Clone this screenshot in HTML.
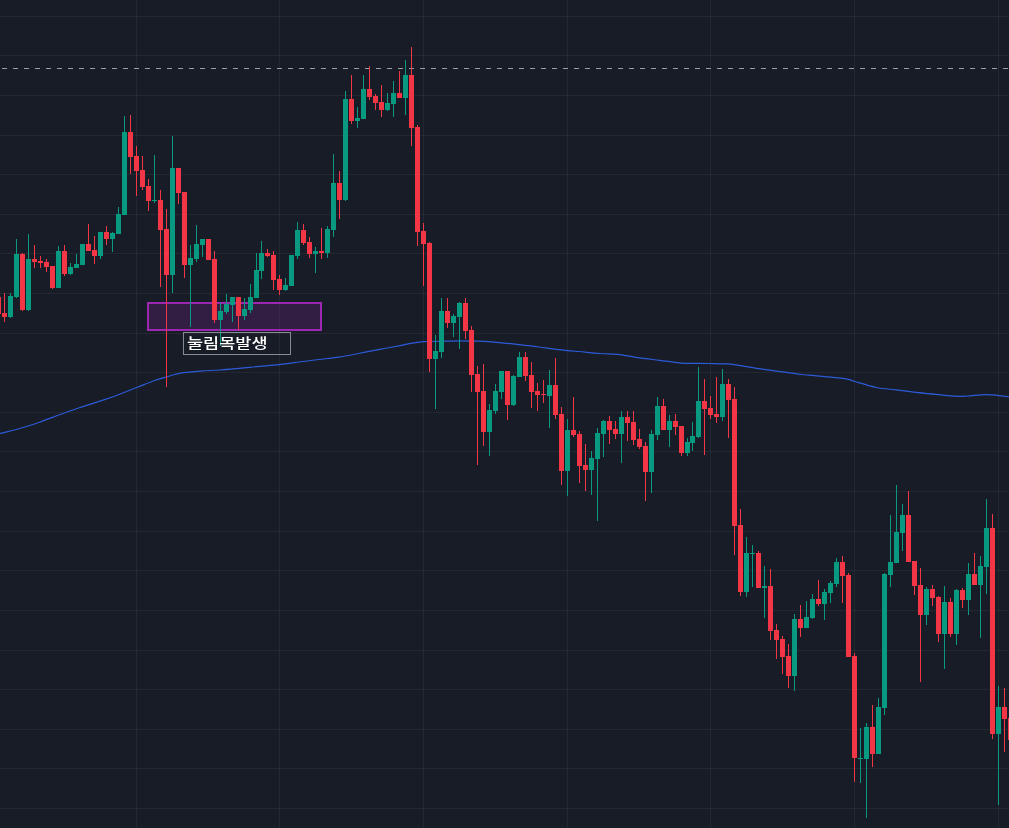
<!DOCTYPE html>
<html lang="ko"><head><meta charset="utf-8"><title>Chart</title>
<style>
html,body{margin:0;padding:0;background:#181c27;overflow:hidden}
#chart{position:relative;width:1009px;height:828px;background:#181c27;overflow:hidden}
#chart svg{position:absolute;left:0;top:0;display:block}
#label{position:absolute;left:183px;top:332px;width:106px;height:21px;border:1px solid #858a95;box-sizing:content-box;color:#fff;
font-family:"Liberation Sans","Noto Sans CJK KR",sans-serif;font-weight:500;font-size:16px;line-height:21px;white-space:nowrap}
#label span{position:absolute;left:2.8px;top:0.2px;display:block;transform:scale(1.095,0.86);transform-origin:0 50%}
</style></head><body>
<div id="chart">
<svg width="1009" height="828" viewBox="0 0 1009 828">
<g shape-rendering="crispEdges" fill="rgba(240,243,250,0.055)">
<rect x="0" y="16" width="1009" height="1"/>
<rect x="0" y="55" width="1009" height="1"/>
<rect x="0" y="95" width="1009" height="1"/>
<rect x="0" y="135" width="1009" height="1"/>
<rect x="0" y="174" width="1009" height="1"/>
<rect x="0" y="214" width="1009" height="1"/>
<rect x="0" y="253" width="1009" height="1"/>
<rect x="0" y="293" width="1009" height="1"/>
<rect x="0" y="333" width="1009" height="1"/>
<rect x="0" y="372" width="1009" height="1"/>
<rect x="0" y="412" width="1009" height="1"/>
<rect x="0" y="451" width="1009" height="1"/>
<rect x="0" y="491" width="1009" height="1"/>
<rect x="0" y="531" width="1009" height="1"/>
<rect x="0" y="570" width="1009" height="1"/>
<rect x="0" y="610" width="1009" height="1"/>
<rect x="0" y="650" width="1009" height="1"/>
<rect x="0" y="689" width="1009" height="1"/>
<rect x="0" y="729" width="1009" height="1"/>
<rect x="0" y="768" width="1009" height="1"/>
<rect x="0" y="808" width="1009" height="1"/>
<rect x="136" y="0" width="1" height="828"/>
<rect x="279" y="0" width="1" height="828"/>
<rect x="423" y="0" width="1" height="828"/>
<rect x="567" y="0" width="1" height="828"/>
<rect x="710" y="0" width="1" height="828"/>
<rect x="854" y="0" width="1" height="828"/>
<rect x="998" y="0" width="1" height="828"/>
</g>
<line x1="2" y1="68.5" x2="1009" y2="68.5" stroke="#9b9ea6" stroke-width="1" stroke-dasharray="5 6" />
<rect x="148" y="303" width="173" height="27" fill="rgba(156,39,176,0.2)" stroke="#9c27b0" stroke-width="2"/>
<path d="M-3.0,434.2C-2.5,434.1 -3.8,434.4 0.0,433.5C3.8,432.6 13.2,430.4 19.8,428.5C26.4,426.6 33.0,424.5 39.6,422.2C46.2,419.9 52.9,417.2 59.5,414.8C66.1,412.4 72.7,409.9 79.3,407.7C85.9,405.5 93.1,403.3 99.1,401.4C105.0,399.4 108.7,398.3 115.0,396.0C121.3,393.7 130.2,390.1 136.8,387.5C143.4,384.9 149.7,382.2 154.6,380.5C159.5,378.8 162.5,378.1 166.5,377.0C170.5,375.9 172.8,374.6 178.4,373.6C184.0,372.6 193.1,371.8 200.0,371.2C206.9,370.6 213.2,370.5 219.8,370.0C226.4,369.5 233.0,369.0 239.6,368.4C246.2,367.8 252.9,367.0 259.5,366.4C266.1,365.8 272.7,365.3 279.3,364.6C285.9,363.9 292.5,362.9 299.1,362.0C305.7,361.1 312.3,360.3 318.9,359.5C325.5,358.7 332.2,358.1 338.8,357.1C345.4,356.1 352.0,354.8 358.6,353.5C365.2,352.2 371.5,350.9 378.4,349.6C385.3,348.3 394.4,346.7 400.0,345.6C405.6,344.5 407.9,343.9 411.9,343.2C415.9,342.5 418.2,341.9 423.8,341.6C429.4,341.3 439.7,341.3 445.6,341.2C451.6,341.1 453.9,340.9 459.5,340.9C465.1,340.9 472.7,340.9 479.3,341.2C485.9,341.5 492.5,342.0 499.1,342.6C505.7,343.2 512.3,343.9 518.9,344.6C525.5,345.3 532.2,346.2 538.8,347.0C545.4,347.8 552.0,348.9 558.6,349.6C565.2,350.4 571.5,350.9 578.4,351.5C585.3,352.1 593.1,353.0 600.0,353.5C606.9,354.0 613.2,354.0 619.8,354.7C626.4,355.4 633.0,357.0 639.6,357.9C646.2,358.8 652.9,359.5 659.5,360.3C666.1,361.1 674.3,362.3 679.3,362.8C684.2,363.3 684.2,363.3 689.2,363.4C694.2,363.5 702.7,363.4 709.0,363.5C715.3,363.6 721.9,363.6 726.9,363.9C731.9,364.2 733.5,364.6 738.8,365.4C744.1,366.2 752.0,367.6 758.6,368.6C765.2,369.6 771.5,370.4 778.4,371.4C785.3,372.3 794.9,373.7 800.0,374.3C805.1,374.9 801.5,374.5 809.0,375.2C816.5,375.9 837.1,377.6 844.7,378.6C852.3,379.7 849.3,380.0 854.6,381.5C859.9,383.0 869.5,386.1 876.4,387.5C883.3,388.9 889.6,389.1 896.2,389.9C902.8,390.7 909.4,391.6 916.0,392.4C922.6,393.1 929.3,393.8 935.9,394.4C942.5,395.0 950.4,395.9 955.7,396.2C961.0,396.5 962.7,396.3 967.6,396.0C972.5,395.7 980.5,394.7 985.4,394.6C990.3,394.5 992.9,394.9 997.3,395.4C1001.7,395.9 1009.5,397.1 1012.0,397.4" fill="none" stroke="#2c5bd8" stroke-width="1.2" stroke-linejoin="round"/>
</svg>
<svg width="1009" height="828" viewBox="0 0 1009 828"><g shape-rendering="crispEdges">
<rect x="-2" y="295" width="1" height="25" fill="#f23645"/><rect x="-4" y="297" width="5" height="17" fill="#f23645"/>
<rect x="4" y="293" width="1" height="29" fill="#f23645"/><rect x="2" y="313" width="5" height="4" fill="#f23645"/>
<rect x="10" y="293" width="1" height="25" fill="#089981"/><rect x="8" y="296" width="5" height="21" fill="#089981"/>
<rect x="16" y="239" width="1" height="59" fill="#089981"/><rect x="14" y="254" width="5" height="43" fill="#089981"/>
<rect x="22" y="253" width="1" height="58" fill="#f23645"/><rect x="20" y="254" width="5" height="56" fill="#f23645"/>
<rect x="28" y="234" width="1" height="77" fill="#089981"/><rect x="26" y="259" width="5" height="51" fill="#089981"/>
<rect x="34" y="245" width="1" height="23" fill="#f23645"/><rect x="32" y="259" width="5" height="3" fill="#f23645"/>
<rect x="40" y="256" width="1" height="12" fill="#f23645"/><rect x="38" y="261" width="5" height="2" fill="#f23645"/>
<rect x="46" y="259" width="1" height="13" fill="#f23645"/><rect x="44" y="262" width="5" height="5" fill="#f23645"/>
<rect x="52" y="266" width="1" height="23" fill="#f23645"/><rect x="50" y="266" width="5" height="22" fill="#f23645"/>
<rect x="58" y="246" width="1" height="42" fill="#089981"/><rect x="56" y="251" width="5" height="37" fill="#089981"/>
<rect x="64" y="245" width="1" height="31" fill="#f23645"/><rect x="62" y="251" width="5" height="23" fill="#f23645"/>
<rect x="70" y="263" width="1" height="12" fill="#089981"/><rect x="68" y="267" width="5" height="7" fill="#089981"/>
<rect x="76" y="254" width="1" height="14" fill="#089981"/><rect x="74" y="264" width="5" height="4" fill="#089981"/>
<rect x="82" y="244" width="1" height="21" fill="#089981"/><rect x="80" y="244" width="5" height="21" fill="#089981"/>
<rect x="88" y="224" width="1" height="27" fill="#f23645"/><rect x="86" y="244" width="5" height="7" fill="#f23645"/>
<rect x="94" y="236" width="1" height="28" fill="#f23645"/><rect x="92" y="250" width="5" height="6" fill="#f23645"/>
<rect x="100" y="232" width="1" height="27" fill="#089981"/><rect x="98" y="232" width="5" height="24" fill="#089981"/>
<rect x="106" y="226" width="1" height="19" fill="#f23645"/><rect x="104" y="232" width="5" height="7" fill="#f23645"/>
<rect x="112" y="232" width="1" height="20" fill="#089981"/><rect x="110" y="233" width="5" height="6" fill="#089981"/>
<rect x="118" y="207" width="1" height="27" fill="#089981"/><rect x="116" y="214" width="5" height="20" fill="#089981"/>
<rect x="124" y="116" width="1" height="99" fill="#089981"/><rect x="122" y="132" width="5" height="83" fill="#089981"/>
<rect x="130" y="115" width="1" height="59" fill="#f23645"/><rect x="128" y="132" width="5" height="25" fill="#f23645"/>
<rect x="136" y="146" width="1" height="50" fill="#f23645"/><rect x="134" y="156" width="5" height="15" fill="#f23645"/>
<rect x="142" y="156" width="1" height="34" fill="#f23645"/><rect x="140" y="170" width="5" height="17" fill="#f23645"/>
<rect x="148" y="179" width="1" height="32" fill="#f23645"/><rect x="146" y="186" width="5" height="15" fill="#f23645"/>
<rect x="154" y="155" width="1" height="48" fill="#089981"/><rect x="152" y="200" width="5" height="1" fill="#089981"/>
<rect x="160" y="190" width="1" height="97" fill="#f23645"/><rect x="158" y="200" width="5" height="30" fill="#f23645"/>
<rect x="166" y="209" width="1" height="178" fill="#f23645"/><rect x="164" y="229" width="5" height="46" fill="#f23645"/>
<rect x="172" y="136" width="1" height="157" fill="#089981"/><rect x="170" y="168" width="5" height="107" fill="#089981"/>
<rect x="178" y="168" width="1" height="36" fill="#f23645"/><rect x="176" y="168" width="5" height="25" fill="#f23645"/>
<rect x="184" y="192" width="1" height="86" fill="#f23645"/><rect x="182" y="192" width="5" height="73" fill="#f23645"/>
<rect x="190" y="245" width="1" height="82" fill="#089981"/><rect x="188" y="258" width="5" height="7" fill="#089981"/>
<rect x="196" y="225" width="1" height="37" fill="#089981"/><rect x="194" y="244" width="5" height="15" fill="#089981"/>
<rect x="202" y="239" width="1" height="18" fill="#089981"/><rect x="200" y="239" width="5" height="6" fill="#089981"/>
<rect x="208" y="239" width="1" height="21" fill="#f23645"/><rect x="206" y="239" width="5" height="21" fill="#f23645"/>
<rect x="214" y="251" width="1" height="72" fill="#f23645"/><rect x="212" y="259" width="5" height="61" fill="#f23645"/>
<rect x="220" y="303" width="1" height="43" fill="#089981"/><rect x="218" y="311" width="5" height="9" fill="#089981"/>
<rect x="226" y="294" width="1" height="20" fill="#089981"/><rect x="224" y="304" width="5" height="8" fill="#089981"/>
<rect x="232" y="297" width="1" height="25" fill="#089981"/><rect x="230" y="297" width="5" height="8" fill="#089981"/>
<rect x="238" y="297" width="1" height="33" fill="#f23645"/><rect x="236" y="297" width="5" height="19" fill="#f23645"/>
<rect x="244" y="298" width="1" height="22" fill="#089981"/><rect x="242" y="309" width="5" height="7" fill="#089981"/>
<rect x="250" y="284" width="1" height="29" fill="#089981"/><rect x="248" y="297" width="5" height="13" fill="#089981"/>
<rect x="256" y="253" width="1" height="45" fill="#089981"/><rect x="254" y="270" width="5" height="28" fill="#089981"/>
<rect x="261" y="241" width="1" height="38" fill="#089981"/><rect x="259" y="253" width="5" height="18" fill="#089981"/>
<rect x="267" y="249" width="1" height="8" fill="#f23645"/><rect x="265" y="253" width="5" height="3" fill="#f23645"/>
<rect x="273" y="251" width="1" height="39" fill="#f23645"/><rect x="271" y="255" width="5" height="25" fill="#f23645"/>
<rect x="279" y="275" width="1" height="20" fill="#f23645"/><rect x="277" y="279" width="5" height="11" fill="#f23645"/>
<rect x="285" y="278" width="1" height="13" fill="#089981"/><rect x="283" y="285" width="5" height="5" fill="#089981"/>
<rect x="291" y="255" width="1" height="31" fill="#089981"/><rect x="289" y="255" width="5" height="31" fill="#089981"/>
<rect x="297" y="222" width="1" height="37" fill="#089981"/><rect x="295" y="230" width="5" height="26" fill="#089981"/>
<rect x="303" y="224" width="1" height="21" fill="#f23645"/><rect x="301" y="230" width="5" height="13" fill="#f23645"/>
<rect x="309" y="237" width="1" height="21" fill="#f23645"/><rect x="307" y="242" width="5" height="12" fill="#f23645"/>
<rect x="315" y="247" width="1" height="26" fill="#089981"/><rect x="313" y="251" width="5" height="3" fill="#089981"/>
<rect x="321" y="228" width="1" height="31" fill="#f23645"/><rect x="319" y="251" width="5" height="2" fill="#f23645"/>
<rect x="327" y="226" width="1" height="32" fill="#089981"/><rect x="325" y="229" width="5" height="24" fill="#089981"/>
<rect x="333" y="154" width="1" height="83" fill="#089981"/><rect x="331" y="183" width="5" height="47" fill="#089981"/>
<rect x="339" y="171" width="1" height="48" fill="#f23645"/><rect x="337" y="183" width="5" height="17" fill="#f23645"/>
<rect x="345" y="91" width="1" height="110" fill="#089981"/><rect x="343" y="99" width="5" height="101" fill="#089981"/>
<rect x="351" y="75" width="1" height="49" fill="#f23645"/><rect x="349" y="99" width="5" height="22" fill="#f23645"/>
<rect x="357" y="107" width="1" height="21" fill="#089981"/><rect x="355" y="118" width="5" height="3" fill="#089981"/>
<rect x="363" y="75" width="1" height="44" fill="#089981"/><rect x="361" y="89" width="5" height="30" fill="#089981"/>
<rect x="369" y="66" width="1" height="34" fill="#f23645"/><rect x="367" y="89" width="5" height="8" fill="#f23645"/>
<rect x="375" y="94" width="1" height="16" fill="#f23645"/><rect x="373" y="96" width="5" height="7" fill="#f23645"/>
<rect x="381" y="85" width="1" height="32" fill="#f23645"/><rect x="379" y="102" width="5" height="8" fill="#f23645"/>
<rect x="387" y="93" width="1" height="18" fill="#089981"/><rect x="385" y="103" width="5" height="7" fill="#089981"/>
<rect x="393" y="81" width="1" height="36" fill="#089981"/><rect x="391" y="93" width="5" height="11" fill="#089981"/>
<rect x="399" y="71" width="1" height="27" fill="#f23645"/><rect x="397" y="93" width="5" height="5" fill="#f23645"/>
<rect x="405" y="60" width="1" height="55" fill="#089981"/><rect x="403" y="75" width="5" height="23" fill="#089981"/>
<rect x="411" y="47" width="1" height="99" fill="#f23645"/><rect x="409" y="75" width="5" height="53" fill="#f23645"/>
<rect x="417" y="125" width="1" height="121" fill="#f23645"/><rect x="415" y="127" width="5" height="105" fill="#f23645"/>
<rect x="423" y="223" width="1" height="63" fill="#f23645"/><rect x="421" y="231" width="5" height="13" fill="#f23645"/>
<rect x="429" y="242" width="1" height="130" fill="#f23645"/><rect x="427" y="243" width="5" height="116" fill="#f23645"/>
<rect x="435" y="335" width="1" height="74" fill="#089981"/><rect x="433" y="351" width="5" height="8" fill="#089981"/>
<rect x="441" y="298" width="1" height="60" fill="#089981"/><rect x="439" y="311" width="5" height="41" fill="#089981"/>
<rect x="447" y="298" width="1" height="30" fill="#f23645"/><rect x="445" y="311" width="5" height="12" fill="#f23645"/>
<rect x="453" y="314" width="1" height="23" fill="#089981"/><rect x="451" y="316" width="5" height="7" fill="#089981"/>
<rect x="459" y="302" width="1" height="47" fill="#089981"/><rect x="457" y="303" width="5" height="14" fill="#089981"/>
<rect x="465" y="298" width="1" height="41" fill="#f23645"/><rect x="463" y="303" width="5" height="28" fill="#f23645"/>
<rect x="471" y="326" width="1" height="66" fill="#f23645"/><rect x="469" y="330" width="5" height="45" fill="#f23645"/>
<rect x="477" y="366" width="1" height="99" fill="#f23645"/><rect x="475" y="374" width="5" height="18" fill="#f23645"/>
<rect x="483" y="364" width="1" height="82" fill="#f23645"/><rect x="481" y="391" width="5" height="41" fill="#f23645"/>
<rect x="489" y="404" width="1" height="52" fill="#089981"/><rect x="487" y="410" width="5" height="22" fill="#089981"/>
<rect x="495" y="384" width="1" height="30" fill="#089981"/><rect x="493" y="391" width="5" height="20" fill="#089981"/>
<rect x="501" y="371" width="1" height="28" fill="#089981"/><rect x="499" y="371" width="5" height="21" fill="#089981"/>
<rect x="507" y="371" width="1" height="49" fill="#f23645"/><rect x="505" y="371" width="5" height="34" fill="#f23645"/>
<rect x="513" y="375" width="1" height="31" fill="#089981"/><rect x="511" y="376" width="5" height="29" fill="#089981"/>
<rect x="519" y="352" width="1" height="25" fill="#089981"/><rect x="517" y="357" width="5" height="20" fill="#089981"/>
<rect x="525" y="352" width="1" height="29" fill="#f23645"/><rect x="523" y="357" width="5" height="19" fill="#f23645"/>
<rect x="531" y="362" width="1" height="46" fill="#f23645"/><rect x="529" y="375" width="5" height="17" fill="#f23645"/>
<rect x="537" y="383" width="1" height="28" fill="#f23645"/><rect x="535" y="391" width="5" height="4" fill="#f23645"/>
<rect x="543" y="380" width="1" height="23" fill="#f23645"/><rect x="541" y="394" width="5" height="1" fill="#f23645"/>
<rect x="549" y="370" width="1" height="58" fill="#089981"/><rect x="547" y="385" width="5" height="11" fill="#089981"/>
<rect x="555" y="358" width="1" height="61" fill="#f23645"/><rect x="553" y="385" width="5" height="30" fill="#f23645"/>
<rect x="561" y="407" width="1" height="78" fill="#f23645"/><rect x="559" y="414" width="5" height="57" fill="#f23645"/>
<rect x="567" y="419" width="1" height="77" fill="#089981"/><rect x="565" y="430" width="5" height="41" fill="#089981"/>
<rect x="573" y="397" width="1" height="40" fill="#f23645"/><rect x="571" y="430" width="5" height="5" fill="#f23645"/>
<rect x="579" y="431" width="1" height="52" fill="#f23645"/><rect x="577" y="434" width="5" height="32" fill="#f23645"/>
<rect x="585" y="444" width="1" height="47" fill="#f23645"/><rect x="583" y="465" width="5" height="5" fill="#f23645"/>
<rect x="591" y="451" width="1" height="44" fill="#089981"/><rect x="589" y="458" width="5" height="12" fill="#089981"/>
<rect x="597" y="428" width="1" height="93" fill="#089981"/><rect x="595" y="433" width="5" height="26" fill="#089981"/>
<rect x="603" y="420" width="1" height="37" fill="#089981"/><rect x="601" y="421" width="5" height="13" fill="#089981"/>
<rect x="609" y="416" width="1" height="28" fill="#f23645"/><rect x="607" y="421" width="5" height="9" fill="#f23645"/>
<rect x="615" y="421" width="1" height="18" fill="#f23645"/><rect x="613" y="429" width="5" height="5" fill="#f23645"/>
<rect x="621" y="411" width="1" height="52" fill="#089981"/><rect x="619" y="417" width="5" height="17" fill="#089981"/>
<rect x="627" y="411" width="1" height="30" fill="#f23645"/><rect x="625" y="417" width="5" height="6" fill="#f23645"/>
<rect x="633" y="411" width="1" height="34" fill="#f23645"/><rect x="631" y="422" width="5" height="18" fill="#f23645"/>
<rect x="639" y="429" width="1" height="20" fill="#f23645"/><rect x="637" y="439" width="5" height="8" fill="#f23645"/>
<rect x="645" y="442" width="1" height="59" fill="#f23645"/><rect x="643" y="446" width="5" height="26" fill="#f23645"/>
<rect x="651" y="430" width="1" height="63" fill="#089981"/><rect x="649" y="434" width="5" height="38" fill="#089981"/>
<rect x="657" y="397" width="1" height="43" fill="#089981"/><rect x="655" y="406" width="5" height="29" fill="#089981"/>
<rect x="663" y="399" width="1" height="31" fill="#f23645"/><rect x="661" y="406" width="5" height="24" fill="#f23645"/>
<rect x="669" y="415" width="1" height="32" fill="#089981"/><rect x="667" y="421" width="5" height="9" fill="#089981"/>
<rect x="675" y="414" width="1" height="21" fill="#f23645"/><rect x="673" y="421" width="5" height="6" fill="#f23645"/>
<rect x="681" y="426" width="1" height="30" fill="#f23645"/><rect x="679" y="426" width="5" height="27" fill="#f23645"/>
<rect x="687" y="438" width="1" height="18" fill="#089981"/><rect x="685" y="442" width="5" height="11" fill="#089981"/>
<rect x="692" y="422" width="1" height="29" fill="#089981"/><rect x="690" y="436" width="5" height="7" fill="#089981"/>
<rect x="698" y="367" width="1" height="71" fill="#089981"/><rect x="696" y="401" width="5" height="36" fill="#089981"/>
<rect x="704" y="379" width="1" height="76" fill="#f23645"/><rect x="702" y="401" width="5" height="8" fill="#f23645"/>
<rect x="710" y="396" width="1" height="23" fill="#f23645"/><rect x="708" y="408" width="5" height="7" fill="#f23645"/>
<rect x="716" y="377" width="1" height="46" fill="#f23645"/><rect x="714" y="414" width="5" height="3" fill="#f23645"/>
<rect x="722" y="369" width="1" height="52" fill="#089981"/><rect x="720" y="384" width="5" height="33" fill="#089981"/>
<rect x="728" y="379" width="1" height="59" fill="#f23645"/><rect x="726" y="384" width="5" height="16" fill="#f23645"/>
<rect x="734" y="387" width="1" height="168" fill="#f23645"/><rect x="732" y="399" width="5" height="127" fill="#f23645"/>
<rect x="740" y="509" width="1" height="87" fill="#f23645"/><rect x="738" y="525" width="5" height="67" fill="#f23645"/>
<rect x="746" y="537" width="1" height="60" fill="#089981"/><rect x="744" y="553" width="5" height="39" fill="#089981"/>
<rect x="752" y="545" width="1" height="42" fill="#089981"/><rect x="750" y="553" width="5" height="1" fill="#089981"/>
<rect x="758" y="551" width="1" height="37" fill="#f23645"/><rect x="756" y="553" width="5" height="35" fill="#f23645"/>
<rect x="764" y="566" width="1" height="52" fill="#089981"/><rect x="762" y="586" width="5" height="2" fill="#089981"/>
<rect x="770" y="569" width="1" height="71" fill="#f23645"/><rect x="768" y="586" width="5" height="45" fill="#f23645"/>
<rect x="776" y="624" width="1" height="35" fill="#f23645"/><rect x="774" y="630" width="5" height="10" fill="#f23645"/>
<rect x="782" y="636" width="1" height="38" fill="#f23645"/><rect x="780" y="639" width="5" height="18" fill="#f23645"/>
<rect x="788" y="644" width="1" height="44" fill="#f23645"/><rect x="786" y="656" width="5" height="20" fill="#f23645"/>
<rect x="794" y="614" width="1" height="77" fill="#089981"/><rect x="792" y="619" width="5" height="57" fill="#089981"/>
<rect x="800" y="605" width="1" height="32" fill="#f23645"/><rect x="798" y="619" width="5" height="9" fill="#f23645"/>
<rect x="806" y="601" width="1" height="27" fill="#089981"/><rect x="804" y="617" width="5" height="11" fill="#089981"/>
<rect x="812" y="594" width="1" height="25" fill="#089981"/><rect x="810" y="599" width="5" height="19" fill="#089981"/>
<rect x="818" y="580" width="1" height="26" fill="#f23645"/><rect x="816" y="599" width="5" height="5" fill="#f23645"/>
<rect x="824" y="589" width="1" height="31" fill="#089981"/><rect x="822" y="592" width="5" height="12" fill="#089981"/>
<rect x="830" y="581" width="1" height="22" fill="#089981"/><rect x="828" y="583" width="5" height="10" fill="#089981"/>
<rect x="836" y="558" width="1" height="29" fill="#089981"/><rect x="834" y="562" width="5" height="22" fill="#089981"/>
<rect x="842" y="556" width="1" height="47" fill="#f23645"/><rect x="840" y="562" width="5" height="14" fill="#f23645"/>
<rect x="848" y="573" width="1" height="84" fill="#f23645"/><rect x="846" y="575" width="5" height="82" fill="#f23645"/>
<rect x="854" y="653" width="1" height="129" fill="#f23645"/><rect x="852" y="656" width="5" height="102" fill="#f23645"/>
<rect x="860" y="728" width="1" height="55" fill="#089981"/><rect x="858" y="758" width="5" height="1" fill="#089981"/>
<rect x="866" y="723" width="1" height="95" fill="#089981"/><rect x="864" y="727" width="5" height="32" fill="#089981"/>
<rect x="872" y="705" width="1" height="62" fill="#f23645"/><rect x="870" y="727" width="5" height="27" fill="#f23645"/>
<rect x="878" y="698" width="1" height="56" fill="#089981"/><rect x="876" y="707" width="5" height="47" fill="#089981"/>
<rect x="884" y="573" width="1" height="142" fill="#089981"/><rect x="882" y="574" width="5" height="134" fill="#089981"/>
<rect x="890" y="515" width="1" height="72" fill="#089981"/><rect x="888" y="562" width="5" height="13" fill="#089981"/>
<rect x="896" y="485" width="1" height="78" fill="#089981"/><rect x="894" y="532" width="5" height="31" fill="#089981"/>
<rect x="902" y="504" width="1" height="47" fill="#089981"/><rect x="900" y="515" width="5" height="18" fill="#089981"/>
<rect x="908" y="491" width="1" height="71" fill="#f23645"/><rect x="906" y="515" width="5" height="47" fill="#f23645"/>
<rect x="914" y="561" width="1" height="34" fill="#f23645"/><rect x="912" y="561" width="5" height="25" fill="#f23645"/>
<rect x="920" y="568" width="1" height="114" fill="#f23645"/><rect x="918" y="585" width="5" height="30" fill="#f23645"/>
<rect x="926" y="587" width="1" height="38" fill="#089981"/><rect x="924" y="589" width="5" height="26" fill="#089981"/>
<rect x="932" y="585" width="1" height="21" fill="#f23645"/><rect x="930" y="589" width="5" height="9" fill="#f23645"/>
<rect x="938" y="596" width="1" height="46" fill="#f23645"/><rect x="936" y="597" width="5" height="37" fill="#f23645"/>
<rect x="944" y="586" width="1" height="83" fill="#089981"/><rect x="942" y="602" width="5" height="32" fill="#089981"/>
<rect x="950" y="598" width="1" height="39" fill="#f23645"/><rect x="948" y="602" width="5" height="32" fill="#f23645"/>
<rect x="956" y="589" width="1" height="56" fill="#089981"/><rect x="954" y="590" width="5" height="44" fill="#089981"/>
<rect x="962" y="588" width="1" height="20" fill="#f23645"/><rect x="960" y="590" width="5" height="10" fill="#f23645"/>
<rect x="968" y="563" width="1" height="52" fill="#089981"/><rect x="966" y="574" width="5" height="26" fill="#089981"/>
<rect x="974" y="553" width="1" height="32" fill="#f23645"/><rect x="972" y="574" width="5" height="11" fill="#f23645"/>
<rect x="980" y="556" width="1" height="82" fill="#089981"/><rect x="978" y="566" width="5" height="19" fill="#089981"/>
<rect x="986" y="499" width="1" height="95" fill="#089981"/><rect x="984" y="528" width="5" height="39" fill="#089981"/>
<rect x="992" y="514" width="1" height="225" fill="#f23645"/><rect x="990" y="528" width="5" height="206" fill="#f23645"/>
<rect x="998" y="686" width="1" height="119" fill="#089981"/><rect x="996" y="707" width="5" height="27" fill="#089981"/>
<rect x="1004" y="688" width="1" height="64" fill="#f23645"/><rect x="1002" y="707" width="5" height="12" fill="#f23645"/>
<rect x="1010" y="715" width="1" height="30" fill="#f23645"/><rect x="1008" y="718" width="5" height="22" fill="#f23645"/>
</g></svg>
<div id="label"><span>눌림목발생</span></div>
</div></body></html>
